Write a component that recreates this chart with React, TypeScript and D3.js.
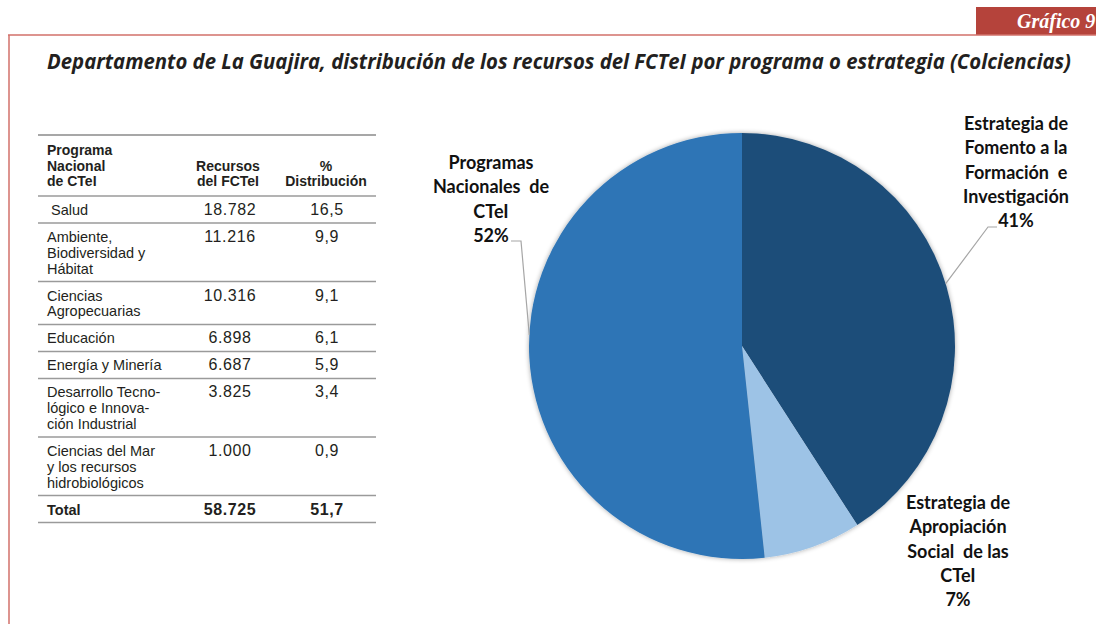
import React from "react";
import * as d3 from "d3";

// ---------- DATA ----------
const tableHeader = [
  ["Programa", "Nacional", "de CTeI"],
  ["Recursos", "del FCTeI"],
  ["%", "Distribución"],
];
const programLabels: string[][] = [
  [" Salud"],
  ["Ambiente,", "Biodiversidad y", "Hábitat"],
  ["Ciencias", "Agropecuarias"],
  ["Educación"],
  ["Energía y Minería"],
  ["Desarrollo Tecno-", "lógico e Innova-", "ción Industrial"],
  ["Ciencias del Mar", "y los recursos", "hidrobiológicos"],
];
const programResources = ["18.782", "11.216", "10.316", "6.898", "6.687", "3.825", "1.000"];
const programShares = ["16,5", "9,9", "9,1", "6,1", "5,9", "3,4", "0,9"];
const totalRow = ["Total", "58.725", "51,7"];

const pieCategories = [
  "Estrategia de Fomento a la Formación e Investigación",
  "Estrategia de Apropiación Social de las CTeI",
  "Programas Nacionales de CTeI",
];
const pieValues = [40.9, 7.4, 51.7];
const pieLabelLines = [
  ["Estrategia de", "Fomento a la", "Formación  e", "Investigación", "41%"],
  ["Estrategia de", "Apropiación", "Social  de las", "CTeI", "7%"],
  ["Programas", "Nacionales  de", "CTeI", "52%"],
];
const pieColors = ["#1F4E79", "#9DC3E6", "#2E75B6"];

const title =
  "Departamento de La Guajira, distribución de los recursos del FCTeI por programa o estrategia (Colciencias)";

// ---------- LAYOUT ----------
const W = 1096;
const H = 624;
const cx = 742;
const cy = 346;
const R = 213;

const tableX0 = 38;
const tableX1 = 376;
const col1X = 47;
const col2X = 230;
const col3X = 327;
const headerTop = 135;
const headerBottom = 196;
const firstBase = 19;
const lineGap = 15.8;
const rowBase = 27;

export default function App() {
  const pie = d3
    .pie<number>()
    .sort(null)
    .value((d) => d)
    .startAngle(0)
    .endAngle(2 * Math.PI);
  const arcs = pie(pieValues);
  const arc = d3.arc<d3.PieArcDatum<number>>().innerRadius(0).outerRadius(R);

  const rows = programLabels.map((lab, i) => ({
    lines: lab,
    res: programResources[i],
    share: programShares[i],
    bold: false,
  }));
  rows.push({ lines: [totalRow[0]], res: totalRow[1], share: totalRow[2], bold: true });
  let y = headerBottom;
  const rowLayout = rows.map((r) => {
    const top = y;
    const h = rowBase + lineGap * (r.lines.length - 1);
    y += h;
    return { ...r, top, bottom: y };
  });

  const pointAt = (deg: number) => {
    const a = (deg * Math.PI) / 180;
    return [cx + R * Math.sin(a), cy - R * Math.cos(a)];
  };
  const leftEnd = pointAt(273);
  const rightEnd = pointAt(73);
  const line = d3.line();

  const labelPos = [
    { x: 1016, y: 130 },
    { x: 958, y: 509 },
    { x: 491, y: 169 },
  ];

  const tableFont = "'Liberation Sans', Arial, sans-serif";
  const pieFont = "Lato, 'Open Sans', sans-serif";

  return (
    <svg
      width={W}
      height={H}
      style={{ position: "absolute", left: 0, top: 0, background: "#fff" }}
    >
      <defs>
        <filter id="pieShadow" x="-10%" y="-10%" width="120%" height="120%">
          <feGaussianBlur in="SourceAlpha" stdDeviation="2.5" />
          <feOffset dx="0" dy="0" result="b" />
          <feComponentTransfer>
            <feFuncA type="linear" slope="0.35" />
          </feComponentTransfer>
          <feMerge>
            <feMergeNode />
            <feMergeNode in="SourceGraphic" />
          </feMerge>
        </filter>
      </defs>

      {/* frame */}
      <rect x={976} y={7} width={120} height={28} fill="#B5433B" />
      <text
        x={1017}
        y={28}
        fill="#fff"
        fontFamily="'Liberation Serif', 'Times New Roman', serif"
        fontStyle="italic"
        fontWeight="bold"
        fontSize={20}
      >
        Gráfico 9
      </text>
      <line x1={8} x2={W} y1={35} y2={35} stroke="#D2706A" strokeWidth={1.5} />
      <line x1={9} x2={9} y1={35} y2={H} stroke="#D2706A" strokeWidth={1.5} />

      {/* title */}
      <text
        x={47}
        y={69}
        textLength={1024}
        lengthAdjust="spacingAndGlyphs"
        fontFamily="'Open Sans', sans-serif"
        fontStyle="italic"
        fontWeight="bold"
        fontSize={21}
        fill="#231F20"
      >
        {title}
      </text>

      {/* table */}
      <g fontFamily={tableFont} fill="#231F20">
        <line x1={tableX0} x2={tableX1} y1={headerTop} y2={headerTop} stroke="#8a8a8a" strokeWidth={1.5} />
        {tableHeader[0].map((t, i) => (
          <text key={"h0" + i} x={col1X} y={155 + i * 15.5} fontSize={14} fontWeight="bold">
            {t}
          </text>
        ))}
        {tableHeader[1].map((t, i) => (
          <text key={"h1" + i} x={col2X - 2} y={170.5 + i * 15.5} fontSize={14} fontWeight="bold" textAnchor="middle">
            {t}
          </text>
        ))}
        {tableHeader[2].map((t, i) => (
          <text key={"h2" + i} x={col3X - 1} y={170.5 + i * 15.5} fontSize={14} fontWeight="bold" textAnchor="middle">
            {t}
          </text>
        ))}
        <line x1={tableX0} x2={tableX1} y1={headerBottom} y2={headerBottom} stroke="#9a9a9a" strokeWidth={1.5} />
        {rowLayout.map((r, i) => (
          <g key={"r" + i} fontWeight={r.bold ? "bold" : "normal"}>
            {r.lines.map((t, j) => (
              <text
                key={j}
                x={col1X}
                y={r.top + firstBase + j * lineGap}
                fontSize={14.5}
                style={{ whiteSpace: "pre" }}
              >
                {t}
              </text>
            ))}
            <text x={col2X} y={r.top + firstBase} textAnchor="middle" fontSize={16} letterSpacing={0.6}>
              {r.res}
            </text>
            <text x={col3X} y={r.top + firstBase} textAnchor="middle" fontSize={16} letterSpacing={0.6}>
              {r.share}
            </text>
            <line x1={tableX0} x2={tableX1} y1={r.bottom} y2={r.bottom} stroke="#9a9a9a" strokeWidth={1.5} />
          </g>
        ))}
      </g>

      {/* pie */}
      <g transform={`translate(${cx},${cy})`} filter="url(#pieShadow)">
        {arcs.map((a, i) => (
          <path key={pieCategories[i]} d={arc(a) || ""} fill={pieColors[i]} />
        ))}
      </g>

      {/* leader lines */}
      <path
        d={line([[511, 241], [521, 241], [leftEnd[0], leftEnd[1]]]) || ""}
        fill="none"
        stroke="#A6A6A6"
        strokeWidth={1.2}
      />
      <path
        d={line([[997, 227], [988, 227], [rightEnd[0], rightEnd[1]]]) || ""}
        fill="none"
        stroke="#A6A6A6"
        strokeWidth={1.2}
      />

      {/* pie labels */}
      <g fontFamily={pieFont} fontWeight="bold" fontSize={18} fill="#111" textAnchor="middle">
        {pieLabelLines.map((lines, i) =>
          lines.map((t, j) => (
            <text
              key={i + "-" + j}
              x={labelPos[i].x}
              y={labelPos[i].y + j * 24.3}
              style={{ whiteSpace: "pre" }}
            >
              {t}
            </text>
          ))
        )}
      </g>
    </svg>
  );
}
